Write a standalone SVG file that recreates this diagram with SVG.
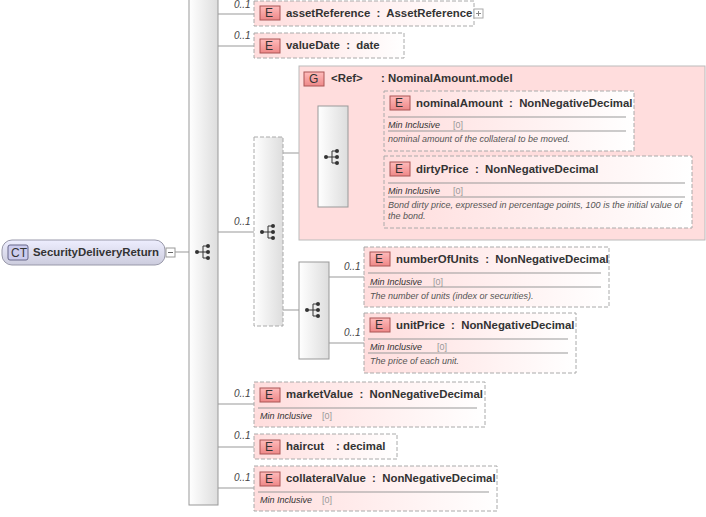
<svg xmlns="http://www.w3.org/2000/svg" width="706" height="517" viewBox="0 0 706 517">
<defs>
<linearGradient id="el" x1="0" y1="0" x2="1" y2="0"><stop offset="0" stop-color="#fdd"/><stop offset="1" stop-color="#fff"/></linearGradient>
<linearGradient id="seq" x1="0" y1="0" x2="1" y2="0"><stop offset="0" stop-color="#fff"/><stop offset="1" stop-color="#ddd"/></linearGradient>
<linearGradient id="badge" x1="0" y1="0" x2="0" y2="1"><stop offset="0" stop-color="#fbb"/><stop offset="1" stop-color="#e88"/></linearGradient>
<linearGradient id="ct" x1="0" y1="0" x2="0" y2="1"><stop offset="0" stop-color="#eef"/><stop offset="1" stop-color="#ccd"/></linearGradient>
<g id="seqicon"><line x1="-7" y1="0" x2="-1" y2="0" stroke="#333"/><line x1="-1" y1="-6" x2="-1" y2="6" stroke="#333"/><line x1="-1" y1="-6" x2="4" y2="-6" stroke="#333"/><line x1="-1" y1="0" x2="4" y2="0" stroke="#333"/><line x1="-1" y1="6" x2="4" y2="6" stroke="#333"/><circle cx="-7" cy="0" r="2" fill="#333"/><circle cx="4" cy="-6" r="2" fill="#333"/><circle cx="4" cy="0" r="2" fill="#333"/><circle cx="4" cy="6" r="2" fill="#333"/></g>
</defs>
<style>
.el{fill:url(#el);stroke:#aaa;stroke-dasharray:4,2}
.sq{fill:url(#seq);stroke:#999}
.sqd{fill:url(#seq);stroke:#aaa;stroke-dasharray:4,2}
.bd{fill:url(#badge);stroke:#a55}
.bt{font:12px "Liberation Sans",sans-serif;fill:#333}
.nm{font:bold 11.4px "Liberation Sans",sans-serif;fill:#333}
.oc{font:italic 10px "Liberation Sans",sans-serif;fill:#444}
.fa{font:italic 9px "Liberation Sans",sans-serif;fill:#333}
.fv{font:9px "Liberation Sans",sans-serif;fill:#999}
.ds{font:italic 9px "Liberation Sans",sans-serif;fill:#555}
.sep{stroke:#999}
.cn{stroke:#999;fill:none}
</style>
<g id="connectors">
<line class="cn" x1="175" y1="252" x2="189" y2="252"/>
<line class="cn" x1="218" y1="14" x2="254" y2="14"/>
<line class="cn" x1="218" y1="46" x2="254" y2="46"/>
<line class="cn" x1="218" y1="232" x2="254" y2="232"/>
<line class="cn" x1="283" y1="153" x2="318" y2="153"/>
<line class="cn" x1="348" y1="121" x2="384" y2="121"/>
<line class="cn" x1="348" y1="191" x2="384" y2="191"/>
<line class="cn" x1="283" y1="310" x2="299" y2="310"/>
<line class="cn" x1="329" y1="277" x2="364" y2="277"/>
<line class="cn" x1="329" y1="343" x2="364" y2="343"/>
<line class="cn" x1="218" y1="404" x2="254" y2="404"/>
<line class="cn" x1="218" y1="447" x2="254" y2="447"/>
<line class="cn" x1="218" y1="488" x2="254" y2="488"/>
<text class="oc" x="234" y="8">0..1</text>
<text class="oc" x="234" y="39">0..1</text>
<text class="oc" x="234" y="225">0..1</text>
<text class="oc" x="364" y="113">0..1</text>
<text class="oc" x="364" y="185">0..1</text>
<text class="oc" x="344" y="270">0..1</text>
<text class="oc" x="344" y="336">0..1</text>
<text class="oc" x="234" y="397">0..1</text>
<text class="oc" x="234" y="439">0..1</text>
<text class="oc" x="234" y="481">0..1</text>
</g>
<g id="ct-node">
<rect x="2" y="240" width="163" height="25" rx="10" fill="url(#ct)" stroke="#99a"/>
<rect x="8" y="245" width="20" height="15" rx="2" fill="#cce" stroke="#668"/>
<text class="bt" x="11" y="257">CT</text>
<text class="nm" x="33" y="256">SecurityDeliveryReturn</text>
<rect x="166" y="248" width="9" height="9" fill="#fff" stroke="#999"/>
<line x1="168" y1="252.5" x2="173" y2="252.5" stroke="#666"/>
</g>
<g id="seq-main"><rect class="sq" x="189" y="-2" width="29" height="507"/><use href="#seqicon" x="204" y="252"/></g>
<g id="assetReference"><rect class="el" x="254" y="1" width="220" height="25"/><rect class="bd" x="260" y="6" width="20" height="14"/><text class="bt" x="265" y="17">E</text><text class="nm" x="286" y="17" xml:space="preserve">assetReference  :  AssetReference</text><rect x="474" y="9" width="9" height="9" fill="#fff" stroke="#aaa"/><path d="M476 13.5h5M478.5 11v5" stroke="#888"/></g>
<g id="valueDate"><rect class="el" x="254" y="33" width="150" height="25"/><rect class="bd" x="260" y="39" width="20" height="14"/><text class="bt" x="265" y="50">E</text><text class="nm" x="286" y="49" xml:space="preserve">valueDate  :  date</text></g>
<g id="seq-opt"><rect class="sqd" x="254" y="137" width="29" height="189"/><use href="#seqicon" x="269" y="232"/></g>
<g id="group-ref"><rect x="299" y="66" width="406" height="174" fill="#fdd" stroke="#bbb"/>
<rect class="bd" x="304" y="72" width="20" height="14"/><text class="bt" x="309" y="83">G</text><text class="nm" x="331" y="82">&lt;Ref&gt;</text><text class="nm" x="381" y="82">: NominalAmount.model</text></g>
<g id="seq-inner"><rect class="sq" x="318" y="106" width="30" height="101"/><use href="#seqicon" x="333" y="157"/></g>
<g id="nominalAmount"><rect class="el" x="384" y="91" width="250" height="60"/><rect class="bd" x="390" y="96" width="20" height="14"/><text class="bt" x="395" y="107">E</text><text class="nm" x="416" y="107" xml:space="preserve">nominalAmount  :  NonNegativeDecimal</text><line class="sep" x1="388" y1="117" x2="626" y2="117"/><text class="fa" x="388" y="128">Min Inclusive</text><text class="fv" x="453" y="128">[0]</text><line class="sep" x1="388" y1="131" x2="626" y2="131"/><text class="ds" x="388" y="142">nominal amount of the collateral to be moved.</text></g>
<g id="dirtyPrice"><rect class="el" x="384" y="156" width="308" height="72"/><rect class="bd" x="390" y="162" width="20" height="14"/><text class="bt" x="395" y="173">E</text><text class="nm" x="416" y="173" xml:space="preserve">dirtyPrice  :  NonNegativeDecimal</text><line class="sep" x1="388" y1="183" x2="685" y2="183"/><text class="fa" x="388" y="194">Min Inclusive</text><text class="fv" x="453" y="194">[0]</text><line class="sep" x1="388" y1="197" x2="685" y2="197"/><text class="ds" x="388" y="208">Bond dirty price, expressed in percentage points, 100 is the initial value of</text><text class="ds" x="388" y="219">the bond.</text></g>
<g id="seq-2"><rect class="sq" x="299" y="262" width="30" height="97"/><use href="#seqicon" x="314" y="310"/></g>
<g id="numberOfUnits"><rect class="el" x="364" y="247" width="245" height="60"/><rect class="bd" x="370" y="252" width="20" height="14"/><text class="bt" x="375" y="263">E</text><text class="nm" x="396" y="263" xml:space="preserve">numberOfUnits  :  NonNegativeDecimal</text><line class="sep" x1="368" y1="273" x2="601" y2="273"/><text class="fa" x="370" y="285">Min Inclusive</text><text class="fv" x="433" y="285">[0]</text><line class="sep" x1="368" y1="287" x2="601" y2="287"/><text class="ds" x="370" y="299">The number of units (index or securities).</text></g>
<g id="unitPrice"><rect class="el" x="364" y="313" width="212" height="60"/><rect class="bd" x="370" y="318" width="20" height="14"/><text class="bt" x="375" y="329">E</text><text class="nm" x="396" y="329" xml:space="preserve">unitPrice  :  NonNegativeDecimal</text><line class="sep" x1="368" y1="339" x2="568" y2="339"/><text class="fa" x="370" y="350">Min Inclusive</text><text class="fv" x="437" y="350">[0]</text><line class="sep" x1="368" y1="353" x2="568" y2="353"/><text class="ds" x="370" y="364">The price of each unit.</text></g>
<g id="marketValue"><rect class="el" x="254" y="382" width="231" height="45"/><rect class="bd" x="260" y="388" width="20" height="14"/><text class="bt" x="265" y="399">E</text><text class="nm" x="286" y="398" xml:space="preserve">marketValue  :  NonNegativeDecimal</text><line class="sep" x1="258" y1="408" x2="477" y2="408"/><text class="fa" x="260" y="419">Min Inclusive</text><text class="fv" x="322" y="419">[0]</text></g>
<g id="haircut"><rect class="el" x="254" y="434" width="143" height="25"/><rect class="bd" x="260" y="440" width="20" height="14"/><text class="bt" x="265" y="451">E</text><text class="nm" x="286" y="450">haircut</text><text class="nm" x="336" y="450">: decimal</text></g>
<g id="collateralValue"><rect class="el" x="254" y="466" width="243" height="45"/><rect class="bd" x="260" y="472" width="20" height="14"/><text class="bt" x="265" y="483">E</text><text class="nm" x="286" y="482" xml:space="preserve">collateralValue  :  NonNegativeDecimal</text><line class="sep" x1="258" y1="492" x2="489" y2="492"/><text class="fa" x="260" y="503">Min Inclusive</text><text class="fv" x="322" y="503">[0]</text></g>
</svg>
